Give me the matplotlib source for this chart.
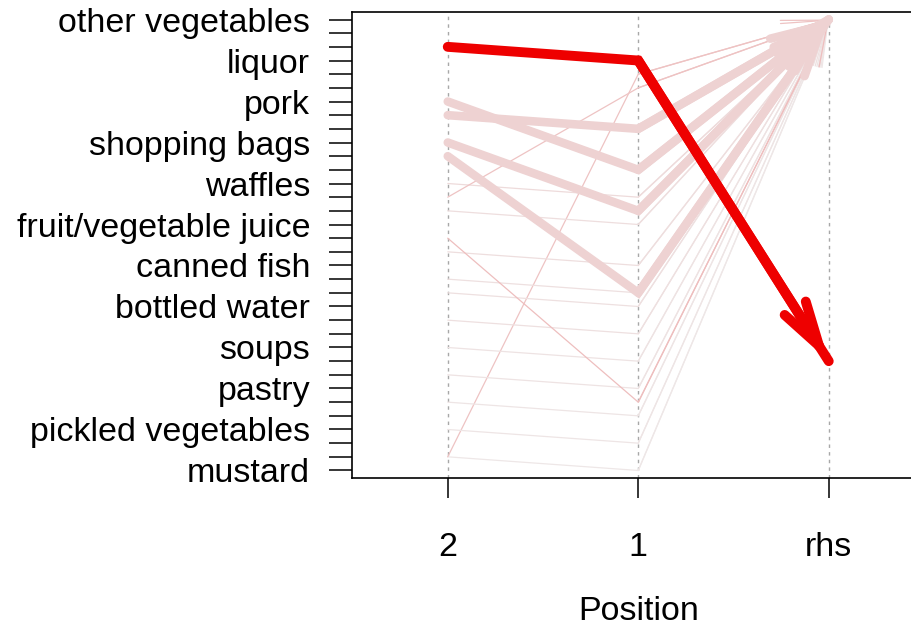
import matplotlib
matplotlib.use("Agg")
import matplotlib.pyplot as plt
from matplotlib.colors import LinearSegmentedColormap

plt.rcParams['font.family'] = ['Liberation Sans', 'DejaVu Sans']

# item axis: 34 items, only every third one gets a readable label
n_items = 34
label_items = [1, 4, 7, 10, 13, 16, 19, 22, 25, 28, 31, 34]
label_names = ["mustard", "pickled vegetables", "pastry", "soups", "bottled water",
               "canned fish", "fruit/vegetable juice", "waffles", "shopping bags",
               "pork", "liquor", "other vegetables"]

positions = ["2", "1", "rhs"]

# rules: item index at lhs position 2 (0 = none), lhs position 1, rhs
rule_lhs2 = [2, 2, 4, 6, 8, 10, 12, 14, 15, 17, 20, 22, 18, 21, 24, 25, 27, 28, 32]
rule_lhs1 = [1, 30, 3, 5, 7, 9, 11, 13, 14, 16, 19, 21, 6, 29, 14, 20, 26, 23, 31]
rule_rhs = [34, 34, 34, 34, 34, 34, 34, 34, 34, 34, 34, 34, 34, 34, 34, 34, 34, 34, 9]
rule_support = [0.0, 0.0, 0.0, 0.0, 0.0, 0.0, 0.0, 0.0, 0.0, 0.0, 0.0, 0.0, 0.0, 0.0,
                0.85, 0.85, 0.85, 0.85, 1.0]
rule_lift = [0.03, 0.18, 0.04, 0.04, 0.05, 0.05, 0.06, 0.06, 0.06, 0.07, 0.07, 0.08,
             0.2, 0.18, 0.12, 0.12, 0.12, 0.12, 1.0]

cmap = LinearSegmentedColormap.from_list("lift", ["#EEEEEE", "#EE0000"])

fig = plt.figure(figsize=(9.12, 6.26), dpi=100)
ax = fig.add_axes([352.5 / 912, (626 - 478) / 626, 571.5 / 912, 466 / 626])
ax.set_xlim(0.5, 3.5)
ax.set_ylim(0.45, n_items + 0.55)

xs = [1, 2, 3]
for x in xs:
    ax.axvline(x, color="#A8A8A8", lw=1.0, linestyle=(0, (2.5, 3)), zorder=0)

for a, b, r, s, l in zip(rule_lhs2, rule_lhs1, rule_rhs, rule_support, rule_lift):
    col = cmap(l)
    lw = 0.9 + 6.2 * s
    if a:
        px, py = [1, 2, 3], [a, b, r]
    else:
        px, py = [2, 3], [b, r]
    ax.plot(px, py, color=col, lw=lw, solid_joinstyle="miter",
            solid_capstyle="round", zorder=2)
    ax.annotate("", xy=(3, r), xytext=(2, b),
                arrowprops=dict(arrowstyle="->,head_length=32,head_width=9",
                                mutation_scale=1, lw=lw, color=col,
                                shrinkA=0, shrinkB=0, joinstyle="miter",
                                capstyle="round"),
                zorder=2)

for side in ["left", "right", "top", "bottom"]:
    ax.spines[side].set_linewidth(1.2)
    ax.spines[side].set_color("black")

ax.set_yticks(range(1, n_items + 1))
tick_text = [""] * n_items
for k, name in zip(label_items, label_names):
    tick_text[k - 1] = name
ax.set_yticklabels(tick_text, fontsize=24.5, color="black")
ax.set_xticks(xs)
ax.set_xticklabels(positions, fontsize=24.5, color="black")
ax.tick_params(axis="y", direction="out", length=16.5, width=1.1, pad=14)
ax.tick_params(axis="x", direction="out", length=14.5, width=1.1, pad=24.5)
ax.set_xlabel("Position", fontsize=24.5, color="black", labelpad=23.5)

fig.savefig("out.png", dpi=100)
